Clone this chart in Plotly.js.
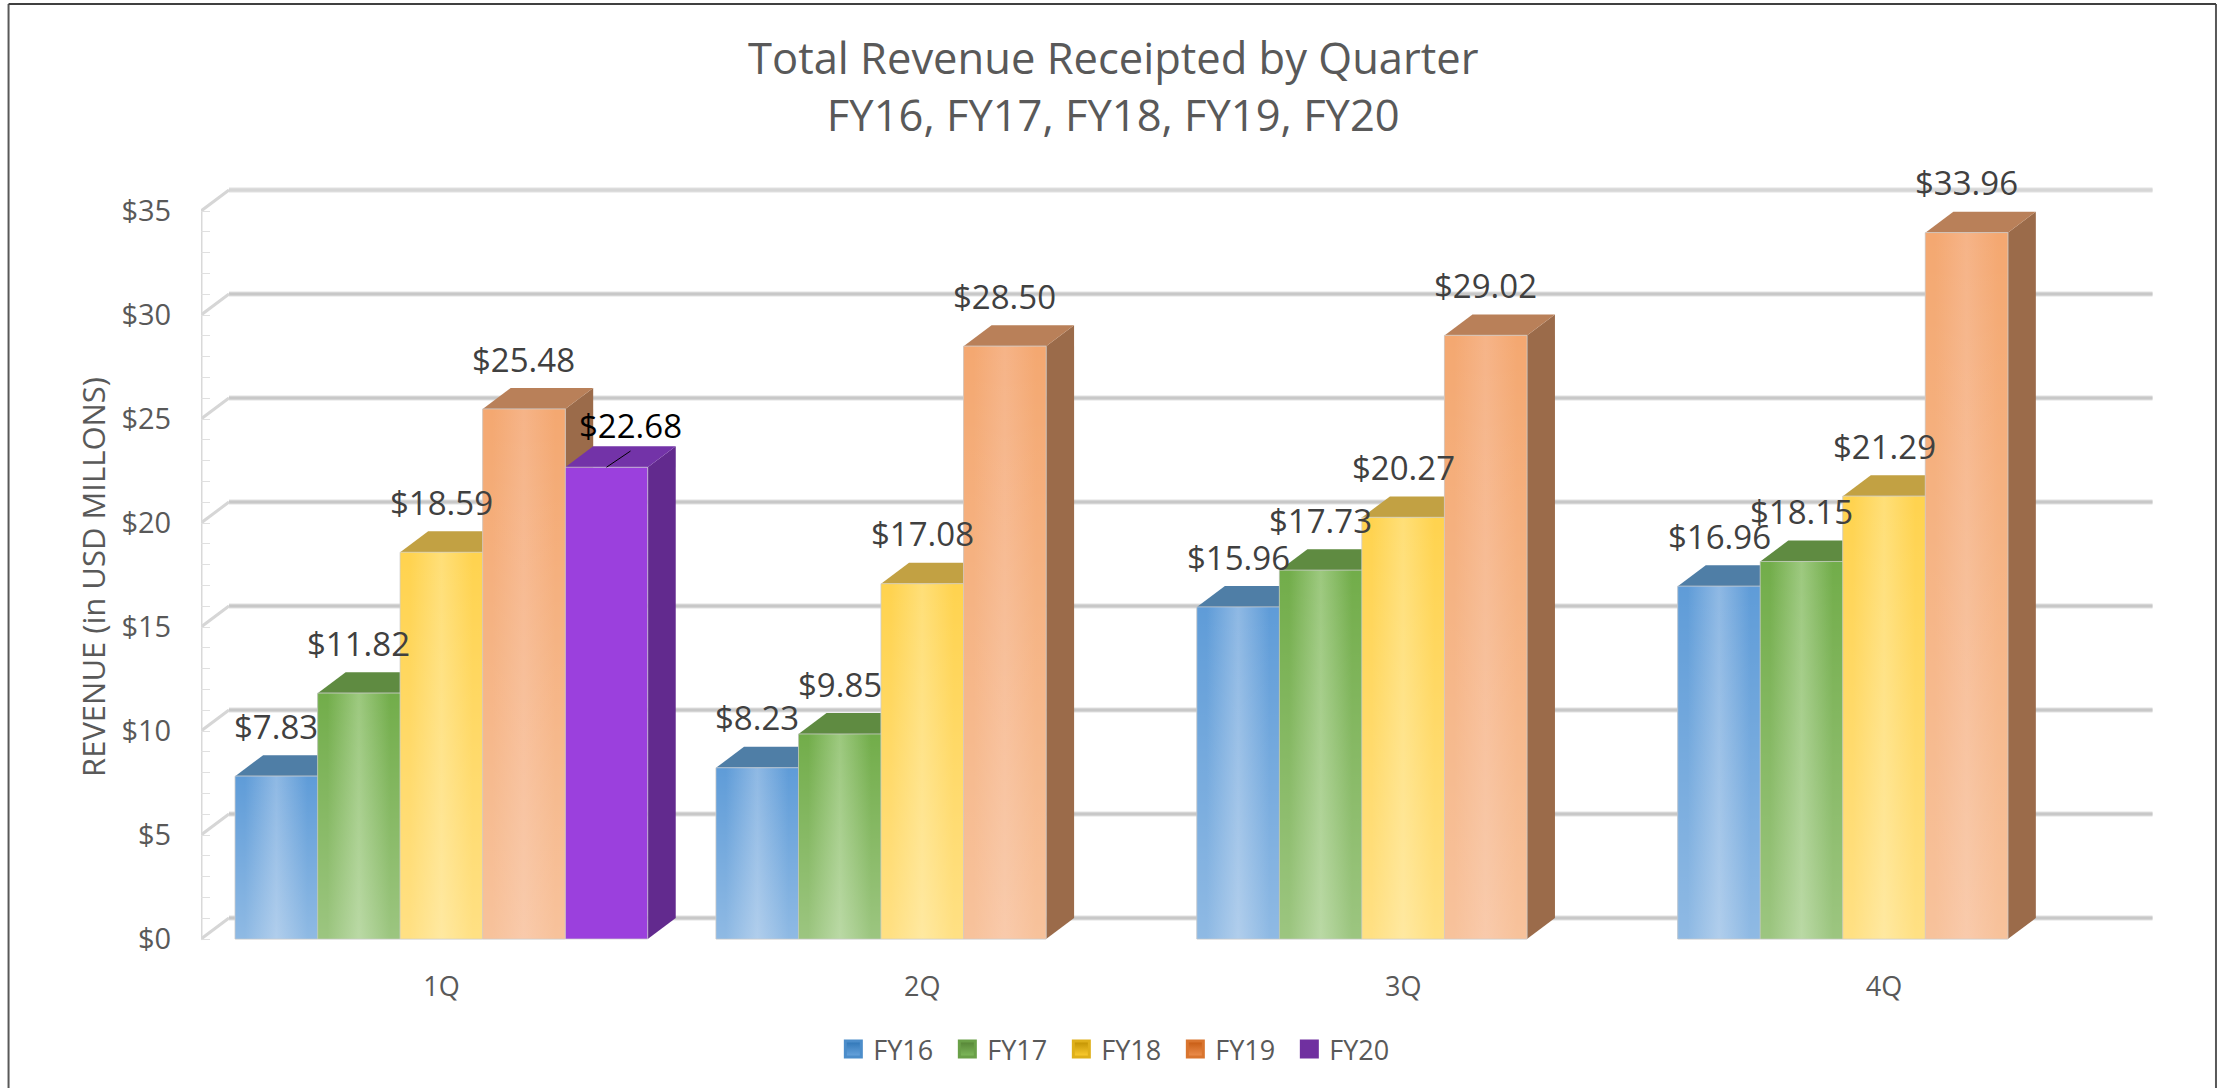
<!DOCTYPE html>
<html><head><meta charset="utf-8">
<script src="https://cdn.plot.ly/plotly-3.0.1.min.js"></script>
<style>html,body{margin:0;padding:0;background:#fff;overflow:hidden}#c{width:2231px;height:1088px}</style>
</head><body><div id="c"></div>
<script>
const categories = ['1Q','2Q','3Q','4Q'];
const seriesNames = ['FY16','FY17','FY18','FY19','FY20'];
const fy16 = [7.83, 8.23, 15.96, 16.96];
const fy17 = [11.82, 9.85, 17.73, 18.15];
const fy18 = [18.59, 17.08, 20.27, 21.29];
const fy19 = [25.48, 28.50, 29.02, 33.96];
const fy20 = [22.68, null, null, null];
const seriesValues = [fy16, fy17, fy18, fy19, fy20];
const yTicks = [0,5,10,15,20,25,30,35];
const minorTicks = Array.from({length:36},(_, i)=>i);

const edge   = ['#5f9cd8','#72ad4a','#ffd34f','#f4a871','#9b40dd'];
const centre = ['#8fb9e4','#9dc97f','#ffdf78','#f6b488','#9b40dd'];
const sideC  = ['#44729c','#54803a','#bd9a2e','#9b6b4a','#622a8e'];
const topC   = ['#4f7ea6','#5f8b41','#c2a143','#b98059','#7333a8'];
const legendC= ['#2e75b6','#548235','#bf9000','#c55a11','#7030a0'];
const legendL= ['#6aa5de','#80bb5c','#ffcf33','#ee9050','#7030a0'];
const legendM= ['#4c8dca','#6aa048','#dfb01a','#d9752f','#7030a0'];

const catGap = 0.142, unit = (1-catGap)/5;
const dx = 28/481, dy = 21/20.8;
const pos = (c,s)=>c+(s-2)*unit;

const traces = [], shapes = [], annotations = [];

/* walls */
const wall = (x0,y0,x1,y1,color,width)=>shapes.push({type:'line',layer:'below',xref:'x',yref:'y',x0,y0,x1,y1,line:{color,width}});
const xL = -0.5, xR = categories.length-0.5;
yTicks.forEach(t=>{
  wall(xL+dx,t+dy,xR+dx,t+dy,'#e2e2e2',5);
  wall(xL+dx,t+dy,xR+dx,t+dy,t<35?'#c8c8c8':'#d6d6d6',3);
  wall(xL,t,xL+dx,t+dy,'#d6d6d6',3);
});
wall(xL,0,xL,35,'#d9d9d9',3);

/* bars */
seriesNames.forEach((name,s)=>{
  traces.push({type:'bar',name,x:categories.map((_, i)=>i),y:seriesValues[s],
    marker:{color:edge[s],line:{color:'rgba(205,205,205,0.7)',width:1}},
    showlegend:false,hoverinfo:'x+y'});
});
categories.forEach((_, c)=>{
  seriesNames.forEach((name,s)=>{
    const v = seriesValues[s][c];
    if(v===null) return;
    const x0 = pos(c,s)-unit/2, x1 = pos(c,s)+unit/2;
    /* side + top faces under the fronts */
    shapes.push({type:'path',layer:'below',xref:'x',yref:'y',
      path:`M${x1},0 L${x1+dx},${dy} L${x1+dx},${v+dy} L${x1},${v} Z`,
      fillcolor:sideC[s],line:{width:0}});
    shapes.push({type:'path',layer:'below',xref:'x',yref:'y',
      path:`M${x0},${v} L${x0+dx},${v+dy} L${x1+dx},${v+dy} L${x1},${v} Z`,
      fillcolor:topC[s],line:{width:0}});
    /* shading of the front faces */
    if(s<4){
      const xs=[x0,x1,x1,x0,x0], ys=[0,0,v,v,0];
      traces.push({type:'scatter',mode:'lines',x:xs,y:ys,fill:'toself',showlegend:false,hoverinfo:'skip',
        line:{width:0,color:edge[s]},
        fillgradient:{type:'horizontal',colorscale:[[0,edge[s]],[0.12,edge[s]],[0.5,centre[s]],[0.88,edge[s]],[1,edge[s]]]}});
      traces.push({type:'scatter',mode:'lines',x:xs,y:ys,fill:'toself',showlegend:false,hoverinfo:'skip',
        line:{width:1,color:'rgba(205,205,205,0.55)'},
        fillgradient:{type:'vertical',colorscale:[[0,'rgba(255,255,255,0.30)'],[1,'rgba(255,255,255,0)']]}});
    }
    /* data label */
    const isFy20 = s===4;
    annotations.push({xref:'x',yref:'y',x:pos(c,s),y:v,yshift:isFy20?42:50,xshift:isFy20?24:0,
      text:'$'+v.toFixed(2),showarrow:false,xanchor:'center',yanchor:'middle',
      font:{family:'Open Sans',size:33,color:isFy20?'#000000':'#404040'}});
    if(isFy20) shapes.push({type:'line',layer:'above',xref:'x',yref:'y',x0:pos(c,s),y0:v,x1:pos(c,s)+0.05,y1:v+0.78,line:{color:'#000',width:1}});
  });
});

/* legend entries */
seriesNames.forEach((name,s)=>{
  traces.push({type:'scatter',mode:'markers',name,x:[null],y:[null],hoverinfo:'skip',
    marker:{symbol:'square',size:16,color:legendC[s],line:{width:3,color:legendM[s]},
      gradient:s<4?{type:'vertical',color:legendL[s]}:undefined}});
});

/* outer frame */
const W=1959.5,H=854,L=200.5,T=150;
const px=x=>(x-L)/W, py=y=>1-(y-T)/H;
shapes.push({type:'line',layer:'above',xref:'paper',yref:'paper',x0:px(8),x1:px(8),y0:py(4),y1:py(1088),line:{color:'#595959',width:2}});
shapes.push({type:'line',layer:'above',xref:'paper',yref:'paper',x0:px(2216),x1:px(2216),y0:py(4),y1:py(1088),line:{color:'#595959',width:2}});
shapes.push({type:'line',layer:'above',xref:'paper',yref:'paper',x0:px(8),x1:px(2216),y0:py(4),y1:py(4),line:{color:'#404040',width:2}});

const layout = {
  width:2231,height:1088,paper_bgcolor:'#fff',plot_bgcolor:'rgba(0,0,0,0)',
  margin:{l:L,r:71,t:T,b:84,pad:0,autoexpand:false},
  font:{family:'Open Sans',color:'#595959'},
  title:{text:'Total Revenue Receipted by Quarter<br>FY16, FY17, FY18, FY19, FY20',
    x:0.499,xanchor:'center',xref:'container',y:0.932,yanchor:'top',yref:'container',
    font:{family:'Open Sans',size:43.5,color:'#595959'}},
  barmode:'group',bargap:catGap,bargroupgap:0,
  xaxis:{type:'linear',range:[-0.5,3.5+35.5/481],tickmode:'array',tickvals:categories.map((_, i)=>i),ticktext:categories,
    showgrid:false,zeroline:false,showline:false,ticks:'',ticklabelposition:'inside',
    tickfont:{family:'Open Sans',size:27,color:'#595959'}},
  yaxis:{range:[-65/20.8,789/20.8],tickmode:'array',tickvals:yTicks,ticktext:yTicks.map(t=>'$'+t),
    showgrid:false,zeroline:false,showline:false,ticks:'outside',ticklen:23,tickcolor:'rgba(0,0,0,0)',
    tickfont:{family:'Open Sans',size:29,color:'#595959'},
    minor:{tickmode:'array',tickvals:minorTicks,ticks:'inside',ticklen:9,tickcolor:'#e0e0e0',tickwidth:1,showgrid:false},
    title:{text:'REVENUE (in USD MILLONS)',standoff:6,font:{family:'Open Sans',size:31,color:'#595959'}}},
  showlegend:true,
  legend:{orientation:'h',x:px(833),xanchor:'left',y:py(1025),yanchor:'top',
    entrywidthmode:'pixels',entrywidth:69,font:{family:'Open Sans',size:27,color:'#595959'},
    bgcolor:'rgba(0,0,0,0)',tracegroupgap:0},
  shapes,annotations
};
Plotly.newPlot('c',traces,layout,{displayModeBar:false,staticPlot:true});
</script></body></html>
